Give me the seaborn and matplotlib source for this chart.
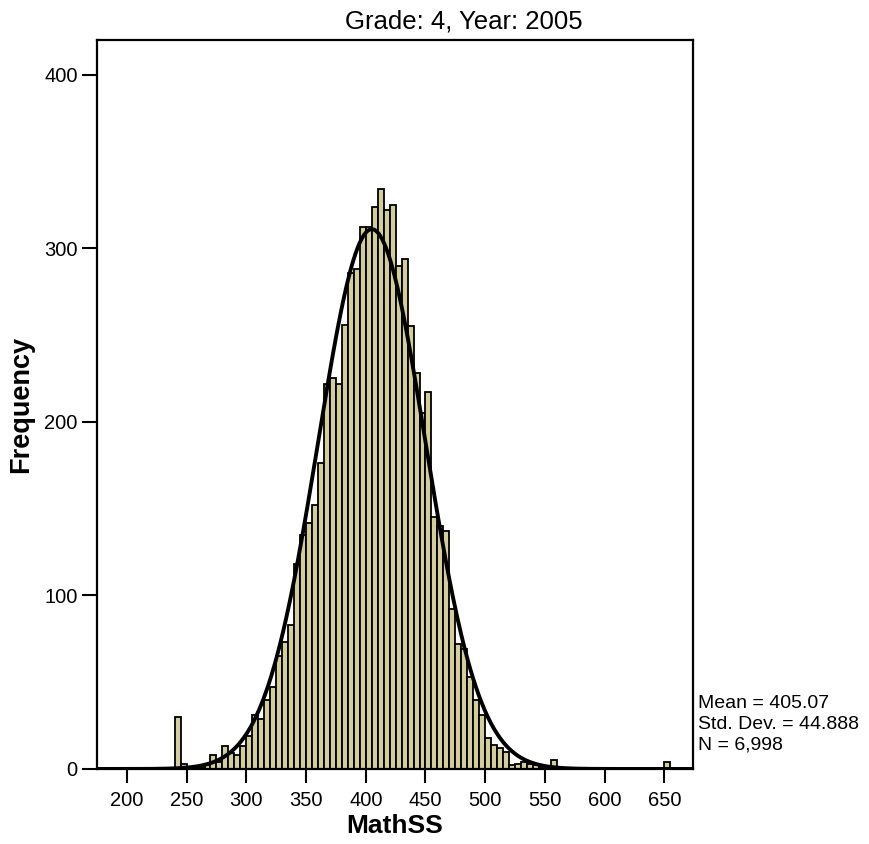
import numpy as np
import pandas as pd
import matplotlib
matplotlib.use("Agg")
import matplotlib.pyplot as plt
import seaborn as sns

# bin left edges (width 5) and frequencies
bin_left = [240, 245, 250, 255, 260, 265, 270, 275, 280, 285, 290, 295,
            300, 305, 310, 315, 320, 325, 330, 335, 340, 345, 350, 355,
            360, 365, 370, 375, 380, 385, 390, 395, 400, 405, 410, 415,
            420, 425, 430, 435, 440, 445, 450, 455, 460, 465, 470, 475,
            480, 485, 490, 495, 500, 505, 510, 515, 520, 525, 530, 535,
            540, 545, 550, 555, 650]
counts = [30, 3, 1, 0, 1, 2, 8, 4, 13, 9, 8, 13,
          19, 31, 29, 40, 47, 65, 73, 83, 118, 135, 142, 152,
          176, 222, 225, 222, 256, 286, 288, 312, 312, 324, 334, 322,
          325, 290, 294, 255, 228, 205, 217, 145, 140, 137, 92, 72,
          69, 53, 40, 31, 18, 14, 12, 10, 2, 3, 4, 3,
          2, 1, 1, 5, 4]
bin_width = 5

mean_val = 405.07
sd_val = 44.888
n_val = 6998

x_ticks = [200, 250, 300, 350, 400, 450, 500, 550, 600, 650]
y_ticks = [0, 100, 200, 300, 400]
stat_lines = ["Mean = 405.07", "Std. Dev. = 44.888", "N = 6,998"]

df = pd.DataFrame({"MathSS": np.array(bin_left) + bin_width / 2, "count": counts})

sns.set_style("white")
plt.rcParams["font.family"] = ["Liberation Sans", "DejaVu Sans"]

fig = plt.figure(figsize=(8.7, 8.44), dpi=100)
ax = fig.add_axes([0.1115, 0.0889, 0.6851, 0.8637])

sns.histplot(data=df, x="MathSS", weights="count", binwidth=bin_width,
             binrange=(min(bin_left), max(bin_left) + bin_width), ax=ax,
             color="#d3cd9c", edgecolor="black", linewidth=1.3, alpha=1)

# normal curve from the reported statistics
xs = np.linspace(175, 674, 600)
ys = n_val * bin_width / (sd_val * np.sqrt(2 * np.pi)) * np.exp(-0.5 * ((xs - mean_val) / sd_val) ** 2)
ax.plot(xs, ys, color="black", linewidth=2.8, zorder=5)

ax.set_xlim(175, 674)
ax.set_ylim(0, 420)
ax.set_xticks(x_ticks)
ax.set_yticks(y_ticks)
ax.tick_params(axis="x", direction="out", length=10, width=1.5, labelsize=14.5,
               colors="black", bottom=True, pad=6)
ax.tick_params(axis="y", direction="out", length=11, width=1.5, labelsize=14.5,
               colors="black", left=True, pad=3)
for s in ax.spines.values():
    s.set_color("black")
    s.set_linewidth(1.6)

ax.set_xlabel("MathSS", fontsize=19, fontweight="bold", color="black", labelpad=3)
ax.set_ylabel("Frequency", fontsize=19.5, fontweight="bold", color="black", labelpad=7)
fig.text(464 / 870, 1 - 22 / 844, "Grade: 4, Year: 2005", fontsize=18.5,
         ha="center", va="center", color="black")

for i, line in enumerate(stat_lines):
    fig.text(698 / 870, 1 - (704 + 20.5 * i) / 844, line, fontsize=14,
             va="center", ha="left", color="black")

fig.savefig("out.png", dpi=100)
